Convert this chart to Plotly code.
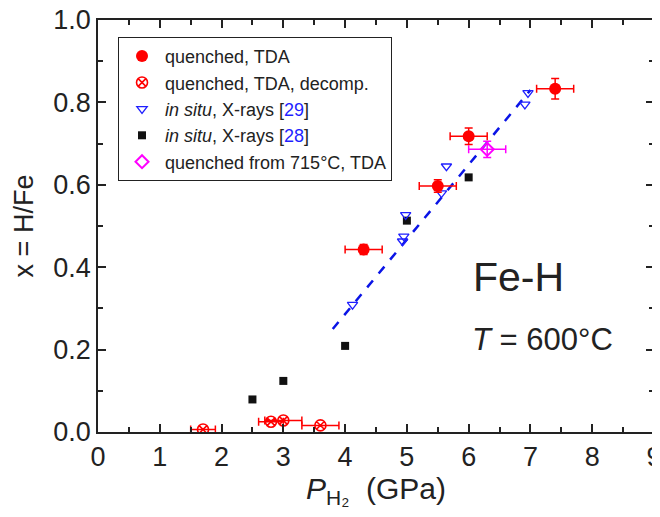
import plotly.graph_objects as go

# quenched, TDA
tda_p = [4.3, 5.5, 6.0, 7.4]
tda_x = [0.443, 0.597, 0.718, 0.833]
tda_dp = [0.3, 0.3, 0.3, 0.3]
tda_dx = [0.012, 0.015, 0.02, 0.025]

# quenched, TDA, decomposed
dec_p = [1.7, 2.8, 3.0, 3.6]
dec_x = [0.006, 0.025, 0.028, 0.016]
dec_dp = [0.2, 0.2, 0.3, 0.3]

# in situ X-rays [29]
ins29_p = [4.12, 4.93, 4.95, 4.98, 5.56, 5.64, 6.91, 6.96]
ins29_x = [0.309, 0.463, 0.475, 0.527, 0.58, 0.645, 0.795, 0.823]

# in situ X-rays [28]
ins28_p = [2.5, 3.0, 4.0, 5.0, 6.0]
ins28_x = [0.079, 0.124, 0.209, 0.513, 0.618]

# quenched from 715C
q715_p = [6.3]
q715_x = [0.686]
q715_dp = [0.3]
q715_dx = [0.02]

# dashed guide line
fit_p = [3.8, 7.0]
fit_x = [0.25, 0.83]

FONT = "Liberation Sans, Arial, sans-serif"
INK = "#222222"

fig = go.Figure()

fig.add_trace(go.Scatter(
    x=fit_p, y=fit_x, mode="lines", showlegend=False,
    line=dict(color="#0a14e6", width=2.5, dash="dash")))

fig.add_trace(go.Scatter(
    x=dec_p, y=dec_x, mode="markers", name="quenched, TDA, decomp.",
    marker=dict(symbol="circle-x-open", size=11, color="#ff0000", line=dict(width=1.6)),
    error_x=dict(type="data", array=dec_dp, color="#ff0000", thickness=1.5, width=4)))

fig.add_trace(go.Scatter(
    x=ins28_p, y=ins28_x, mode="markers",
    name="<i>in situ</i>, X-rays [<span style='color:#1f1fff'>28</span>]",
    marker=dict(symbol="square", size=8, color="#111111")))

fig.add_trace(go.Scatter(
    x=ins29_p, y=ins29_x, mode="markers",
    name="<i>in situ</i>, X-rays [<span style='color:#1f1fff'>29</span>]",
    marker=dict(symbol="triangle-down-open", size=9, color="#1f1fff", line=dict(width=1.3))))

fig.add_trace(go.Scatter(
    x=q715_p, y=q715_x, mode="markers", name="quenched from 715°C, TDA",
    marker=dict(symbol="diamond-open", size=10, color="#ff00ff", line=dict(width=2)),
    error_x=dict(type="data", array=q715_dp, color="#ff00ff", thickness=1.5, width=4),
    error_y=dict(type="data", array=q715_dx, color="#ff00ff", thickness=1.5, width=4)))

fig.add_trace(go.Scatter(
    x=tda_p, y=tda_x, mode="markers", name="quenched, TDA",
    marker=dict(symbol="circle", size=12, color="#ff0000"),
    error_x=dict(type="data", array=tda_dp, color="#ff0000", thickness=1.5, width=4),
    error_y=dict(type="data", array=tda_dx, color="#ff0000", thickness=1.5, width=4)))

# legend order as in the reference
order = ["quenched, TDA", "quenched, TDA, decomp.",
         "<i>in situ</i>, X-rays [<span style='color:#1f1fff'>29</span>]",
         "<i>in situ</i>, X-rays [<span style='color:#1f1fff'>28</span>]",
         "quenched from 715°C, TDA"]
for tr in fig.data:
    if tr.name in order:
        tr.legendrank = order.index(tr.name)

fig.add_annotation(x=6.03, y=0.377, xref="x", yref="y", text="Fe-H", showarrow=False,
                   xanchor="left", yanchor="middle", font=dict(size=41, color=INK, family=FONT))
fig.add_annotation(x=6.02, y=0.224, xref="x", yref="y", text="<i>T</i> = 600°C", showarrow=False,
                   xanchor="left", yanchor="middle", font=dict(size=31, color=INK, family=FONT))

axis_common = dict(
    showline=True, linecolor=INK, linewidth=1.5, mirror="ticks",
    ticks="inside", ticklen=8, tickwidth=1.5, tickcolor=INK,
    showgrid=False, zeroline=False, automargin=False, ticklabeloverflow="allow",
    tickfont=dict(size=27, color=INK, family=FONT),
)

fig.update_xaxes(
    range=[0, 9], dtick=1, tick0=0,
    minor=dict(dtick=0.5, ticks="inside", ticklen=5, tickwidth=1.5, tickcolor=INK, showgrid=False),
    title=dict(text="<i>P</i><sub>H₂</sub>  (GPa)", font=dict(size=30, color=INK, family=FONT), standoff=4),
    **axis_common)
fig.update_yaxes(
    range=[0, 1.0], dtick=0.2, tick0=0, tickformat=".1f",
    minor=dict(dtick=0.1, ticks="inside", ticklen=5, tickwidth=1.5, tickcolor=INK, showgrid=False),
    title=dict(text="x = H/Fe", font=dict(size=27, color=INK, family=FONT), standoff=12),
    **axis_common)

# page body adds an 8 px offset, margins compensate
fig.update_layout(
    width=660, height=517,
    margin=dict(l=90, r=14, t=12, b=93),
    plot_bgcolor="white", paper_bgcolor="white",
    font=dict(family=FONT, color=INK),
    legend=dict(x=0.036, y=0.959, xanchor="left", yanchor="top",
                bgcolor="white", bordercolor=INK, borderwidth=1,
                font=dict(size=18, color=INK, family=FONT),
                tracegroupgap=0, itemwidth=36),
)

fig.write_html("out.html")
